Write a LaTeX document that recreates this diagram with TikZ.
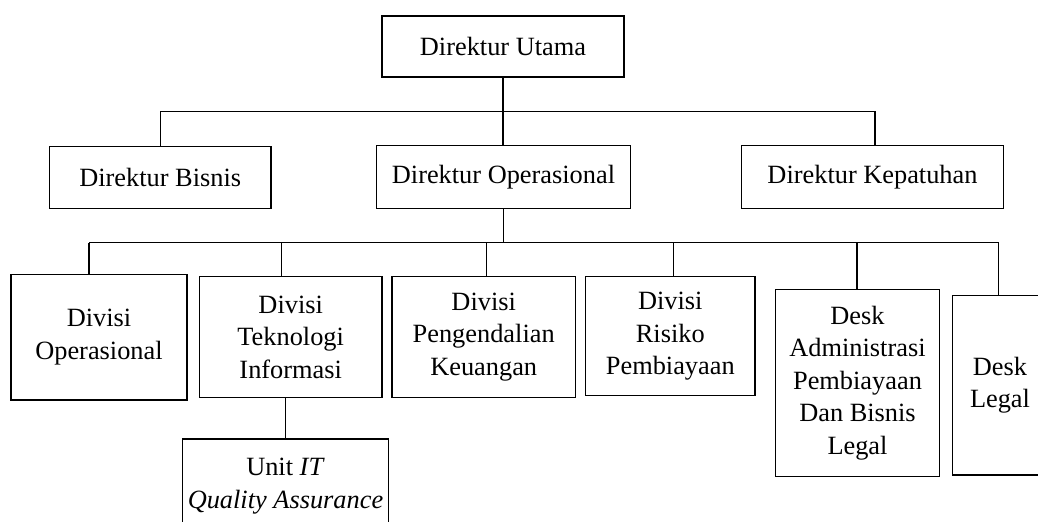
\documentclass[tikz,border=0pt]{standalone}
\usepackage{fontspec}
\setmainfont{Liberation Serif}
\usetikzlibrary{positioning}

\begin{document}
\begin{tikzpicture}[x=0.02cm, y=-0.02cm, line width=0.7pt,
    box/.style={draw, align=center, inner sep=2pt, font=\fontsize{15}{18.5}\selectfont}]

    % Canvas
    \clip (0,0) rectangle (1038,521);

    % Direktur Utama
    \node[box, minimum width=4.84cm, minimum height=1.22cm] (utama) at (503,46.5) {Direktur Utama};

    % Direktur level
    \node[box, minimum width=4.43cm, minimum height=1.23cm] (bisnis) at (160.2,177.5) {Direktur Bisnis};
    \node[box, minimum width=5.09cm, minimum height=1.26cm] (operasional) at (503.5,176.8) {Direktur Operasional};
    \node[box, minimum width=5.25cm, minimum height=1.27cm] (kepatuhan) at (872.5,177) {Direktur Kepatuhan};

    % Divisi and desk level
    \node[box, minimum width=3.52cm, minimum height=2.51cm] (divops) at (99,337.3) {Divisi\\Operasional};
    \node[box, minimum width=3.65cm, minimum height=2.41cm] (divti) at (290.7,337) {Divisi\\Teknologi\\Informasi};
    \node[box, minimum width=3.67cm, minimum height=2.41cm] (divpk) at (483.7,337) {Divisi\\Pengendalian\\Keuangan};
    \node[box, minimum width=3.39cm, minimum height=2.38cm] (divrp) at (670.3,336.2) {Divisi\\Risiko\\Pembiayaan};
    \node[box, minimum width=3.27cm, minimum height=3.75cm] (deskadm) at (857.5,383) {Desk\\Administrasi\\Pembiayaan\\Dan Bisnis\\Legal};
    \node[box, minimum width=1.89cm, minimum height=3.59cm] (desklegal) at (1000,385.2) {Desk\\Legal};

    % Unit under Divisi TI
    \node[box, minimum width=4.13cm, minimum height=1.88cm] (unitqa) at (285.5,486) {Unit \textit{IT}\\\textit{Quality Assurance}};

    % Upper bus
    \coordinate (b1l) at (160.2,111.7);
    \coordinate (b1r) at (875,111.7);
    \draw (utama.south) -- (utama.south |- operasional.north);
    \draw (bisnis.north) -- (b1l) -- (b1r) -- (b1r |- kepatuhan.north);

    % Lower bus
    \coordinate (b2l) at (89,242.7);
    \coordinate (b2r) at (998.7,242.7);
    \draw (operasional.south) -- (operasional.south |- b2l);
    \draw (b2l) -- (b2r);
    \foreach \x/\n [count=\i] in {89/divops, 281.7/divti, 486.7/divpk, 673.3/divrp, 857/deskadm, 998.7/desklegal} {
        \coordinate (d\i) at (\x,242.7);
        \draw (d\i) -- (d\i |- \n.north);
    }

    % Divisi TI to unit
    \draw (unitqa.north) -- (unitqa.north |- divti.south);

\end{tikzpicture}
\end{document}
